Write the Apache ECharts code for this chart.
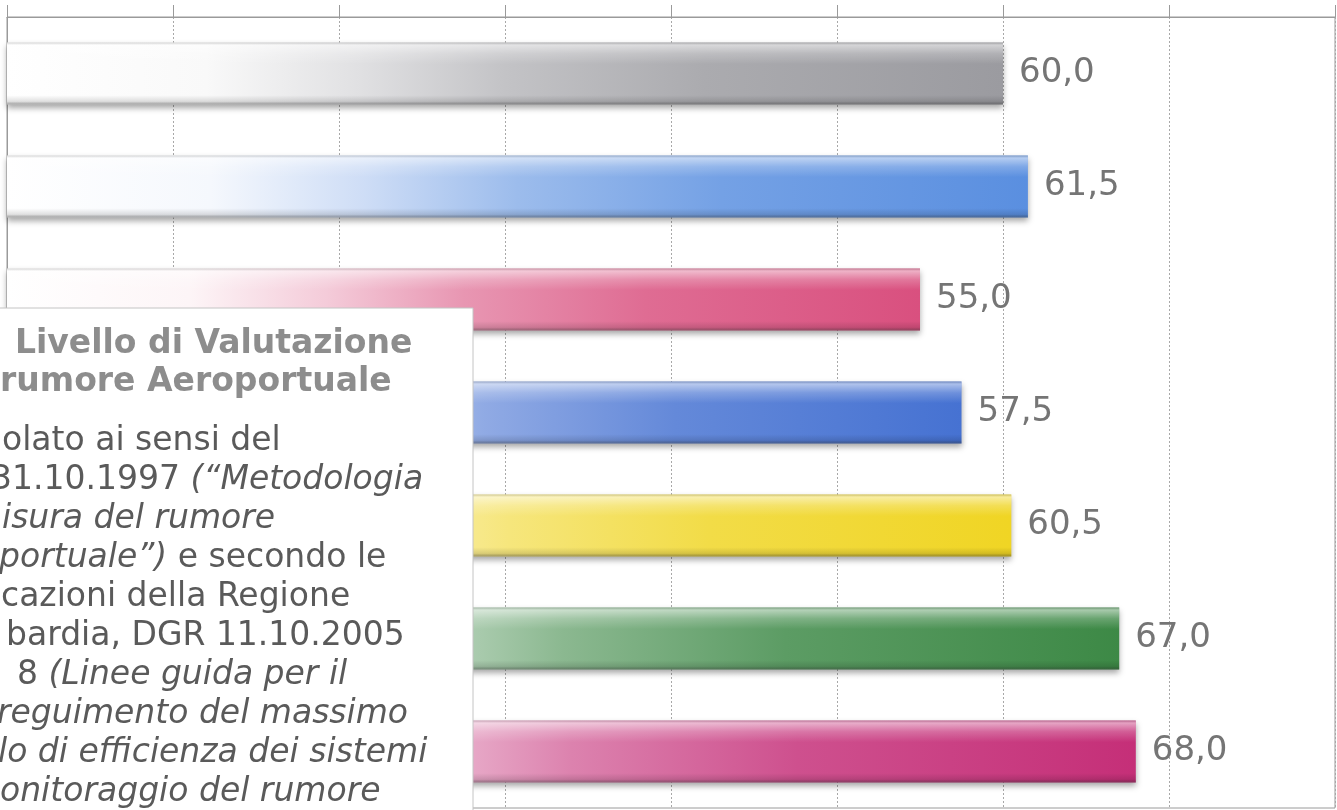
<!DOCTYPE html>
<html>
<head>
<meta charset="utf-8">
<script src="https://cdn.jsdelivr.net/npm/echarts@6/dist/echarts.min.js"></script>
<style>
  html, body { margin: 0; padding: 0; background: #ffffff; }
  #chart { width: 1337px; height: 810px; }
</style>
</head>
<body>
<div id="chart"></div>
<script>
// ---- data (top to bottom) ----
const categories = ['Barra 1', 'Barra 2', 'Barra 3', 'Barra 4', 'Barra 5', 'Barra 6', 'Barra 7'];
const values = [60.0, 61.5, 55.0, 57.5, 60.5, 67.0, 68.0];
const axisTicks = [0, 10, 20, 30, 40, 50, 60, 70, 80];

// ---- text of the (cropped) note box ----
const noteTitle = ['Livello di Valutazione', 'rumore Aeroportuale'];
const noteLines = [
  [['n', 'olato ai sensi del']],
  [['n', '31.10.1997 '], ['i', '(\u201CMetodologia']],
  [['i', 'isura del rumore']],
  [['i', 'portuale\u201D)'], ['n', ' e secondo le']],
  [['n', 'cazioni della Regione']],
  [['n', 'bardia, DGR 11.10.2005']],
  [['n', '8 '], ['i', '(Linee guida per il']],
  [['i', 'reguimento del massimo']],
  [['i', 'lo di efficienza dei sistemi']],
  [['i', 'onitoraggio del rumore']]
];

// ---- styles ----
const barColors = ['#9b9ba0', '#5a8fe0', '#d9507f', '#4672d2', '#f0d524', '#3d8946', '#c52f78'];

function mix(hex, t) { // t=0 -> white, t=1 -> color
  const r = parseInt(hex.slice(1, 3), 16), g = parseInt(hex.slice(3, 5), 16), b = parseInt(hex.slice(5, 7), 16);
  const m = c => Math.round(255 + (c - 255) * t);
  return 'rgb(' + m(r) + ',' + m(g) + ',' + m(b) + ')';
}

const mainData = values.map((v, i) => ({
  value: v,
  itemStyle: {
    color: {
      type: 'linear', x: 0, y: 0, x2: 1, y2: 0,
      colorStops: [
        { offset: 0, color: '#ffffff' },
        { offset: 0.2, color: mix(barColors[i], 0.06) },
        { offset: 0.35, color: mix(barColors[i], 0.3) },
        { offset: 0.5, color: mix(barColors[i], 0.6) },
        { offset: 0.7, color: mix(barColors[i], 0.84) },
        { offset: 1, color: barColors[i] }
      ]
    }
  }
}));

const chart = echarts.init(document.getElementById('chart'), null, { renderer: 'canvas' });

const bodyFont = 'DejaVu Sans';
const lineY0 = 441, lineStep = 39;
const lineX = [2, -9, 2, -1, 1, 6, 17, -3, -2, 0];

const noteElements = [
  {
    type: 'rect', z: 100,
    shape: { x: -5, y: 308, width: 478, height: 520 },
    style: { fill: '#ffffff', stroke: '#c4c4c4', lineWidth: 1 }
  },
  {
    type: 'text', z: 101, x: 15, y: 344,
    style: { text: noteTitle[0], font: 'bold 33px "DejaVu Sans"', fill: '#8d8d8d', textVerticalAlign: 'middle' }
  },
  {
    type: 'text', z: 101, x: 0, y: 382,
    style: { text: noteTitle[1], font: 'bold 33px "DejaVu Sans"', fill: '#8d8d8d', textVerticalAlign: 'middle' }
  }
];
noteLines.forEach((parts, k) => {
  noteElements.push({
    type: 'text', z: 101, x: lineX[k], y: lineY0 + k * lineStep,
    style: {
      text: parts.map(p => '{' + p[0] + '|' + p[1] + '}').join(''),
      textVerticalAlign: 'middle',
      rich: {
        n: { fontFamily: bodyFont, fontSize: 33, fill: '#5a5a5a' },
        i: { fontFamily: bodyFont, fontSize: 33, fontStyle: 'italic', fill: '#5a5a5a' }
      }
    }
  });
});

chart.setOption({
  animation: false,
  backgroundColor: '#ffffff',
  grid: {
    left: 7, right: 2, top: 17, bottom: 2,
    show: true, borderColor: '#9a9a9a', borderWidth: 1
  },
  xAxis: {
    type: 'value',
    position: 'top',
    min: axisTicks[0],
    max: axisTicks[axisTicks.length - 1],
    interval: axisTicks[1] - axisTicks[0],
    axisLine: { show: true, lineStyle: { color: '#9a9a9a', width: 1 } },
    axisTick: { show: true, inside: false, length: 12, lineStyle: { color: '#9a9a9a' } },
    axisLabel: { show: false },
    splitLine: { show: true, lineStyle: { color: '#a8a8a8', type: [2, 2], width: 1 } }
  },
  yAxis: {
    type: 'category',
    data: categories,
    inverse: true,
    axisLine: { show: true, lineStyle: { color: '#9a9a9a' } },
    axisTick: { show: false },
    axisLabel: { show: false },
    splitLine: { show: false }
  },
  series: [
    {
      type: 'bar',
      data: mainData,
      barWidth: 62,
      z: 2,
      itemStyle: {
        shadowColor: 'rgba(0,0,0,0.35)',
        shadowBlur: 6,
        shadowOffsetY: 3
      },
      label: {
        show: true,
        position: 'right',
        distance: 16,
        fontFamily: bodyFont,
        fontSize: 34,
        color: '#757575',
        formatter: p => p.value.toFixed(1).replace('.', ',')
      }
    },
    {
      type: 'bar',
      data: values,
      barWidth: 62,
      barGap: '-100%',
      z: 3,
      silent: true,
      itemStyle: {
        color: {
          type: 'linear', x: 0, y: 0, x2: 0, y2: 1,
          colorStops: [
            { offset: 0, color: 'rgba(170,170,170,0.45)' },
            { offset: 0.04, color: 'rgba(255,255,255,0.55)' },
            { offset: 0.18, color: 'rgba(255,255,255,0.22)' },
            { offset: 0.35, color: 'rgba(255,255,255,0)' },
            { offset: 0.85, color: 'rgba(0,0,0,0)' },
            { offset: 0.95, color: 'rgba(0,0,0,0.12)' },
            { offset: 1, color: 'rgba(60,60,60,0.45)' }
          ]
        }
      }
    }
  ],
  graphic: { elements: noteElements }
});
</script>
</body>
</html>
